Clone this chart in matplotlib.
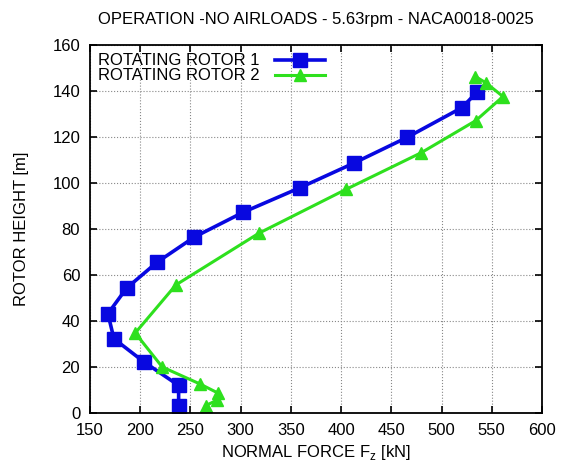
import matplotlib
matplotlib.use('Agg')
import matplotlib.pyplot as plt

# normal force distribution along rotor height
rotor1_force = [535.6, 520.4, 466.0, 412.5, 358.8, 302.7, 253.9, 216.7, 186.5, 167.9, 173.9, 203.8, 238.3, 238.3]
rotor1_height = [139.7, 132.8, 119.9, 108.6, 97.9, 87.3, 76.5, 65.5, 54.3, 43.2, 32.3, 22.2, 12.0, 2.9]

rotor2_force = [533.7, 544.0, 561.2, 534.0, 479.9, 405.2, 318.3, 235.6, 195.1, 222.0, 259.2, 277.4, 276.0, 265.2]
rotor2_height = [146.3, 143.6, 137.6, 127.1, 113.2, 97.3, 78.2, 55.7, 34.8, 20.0, 12.7, 8.7, 5.5, 3.2]

plt.rcParams['font.family'] = ['Liberation Sans', 'DejaVu Sans']

fig = plt.figure(figsize=(5.62, 4.67), dpi=100)
ax = fig.add_axes([0.160, 0.1156, 0.8044, 0.788])

ax.plot(rotor1_force, rotor1_height, color='#0808e0', lw=2.6, marker='s', ms=10,
        label='ROTATING ROTOR 1')
ax.plot(rotor2_force, rotor2_height, color='#2ee01e', lw=2.2, marker='^', ms=8,
        label='ROTATING ROTOR 2')

ax.set_xlim(150, 600)
ax.set_ylim(0, 160)
ax.set_xticks(range(150, 601, 50))
ax.set_yticks(range(0, 161, 20))
ax.grid(True, color='#888888', linestyle=':', lw=0.8)
ax.tick_params(direction='in', top=True, right=True, labelsize=12, length=5, width=1.2, pad=7)
for s in ax.spines.values():
    s.set_linewidth(1.3)

ax.set_title('OPERATION -NO AIRLOADS - 5.63rpm - NACA0018-0025', fontsize=12, pad=15)
ax.set_xlabel(r'NORMAL FORCE F$_\mathregular{z}$ [kN]', fontsize=12, labelpad=4)
ax.set_ylabel('ROTOR HEIGHT [m]', fontsize=12, labelpad=17)

ax.legend(loc='upper left', frameon=False, markerfirst=False, fontsize=12,
          handlelength=3.0, borderaxespad=0.1, labelspacing=0.0, handletextpad=0.9)

fig.savefig('out.png', dpi=100)
